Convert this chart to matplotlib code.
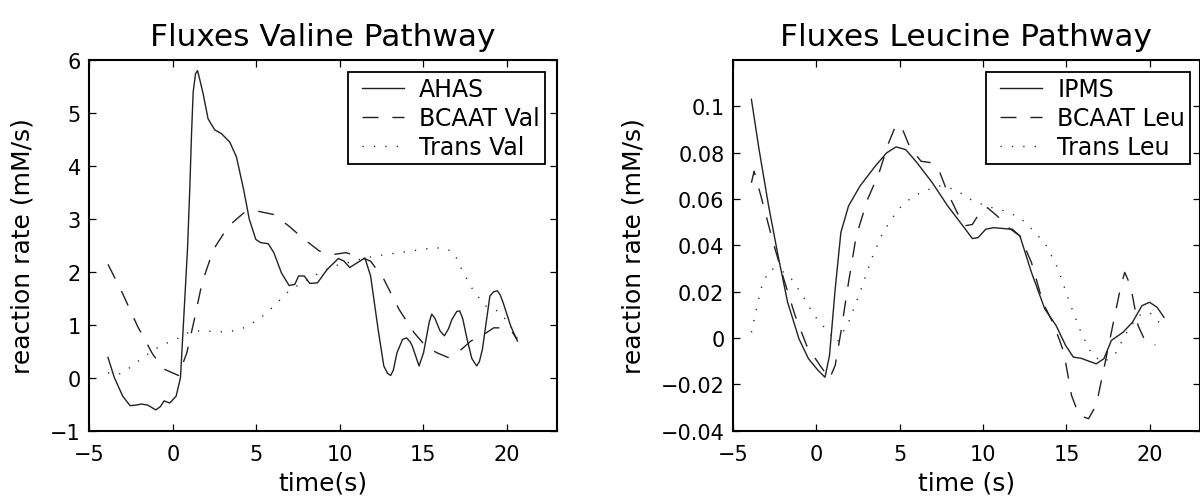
import numpy as np
import matplotlib
matplotlib.use("Agg")
import matplotlib.pyplot as plt
from matplotlib.lines import Line2D
from matplotlib.legend_handler import HandlerLine2D

plt.rcParams['font.family'] = ['DejaVu Sans']

# ---- Valine pathway ----
t_ahas = [-3.88, -3.5, -3.0, -2.56, -2.2, -1.88, -1.5, -1.02, -0.75, -0.52, -0.18, 0.2, 0.46,
          0.88, 1.02, 1.12, 1.22, 1.36, 1.48, 1.6, 1.81, 2.11, 2.51, 2.91, 3.41, 3.81,
          4.24, 4.58, 4.97,
          5.26, 5.71, 6.05, 6.5, 6.96, 7.3, 7.53, 7.87, 8.2, 8.66, 9.23, 9.91, 10.25, 10.59,
          11.04, 11.5, 11.84, 12.29, 12.63, 12.85, 13.04, 13.2, 13.42, 13.75, 13.99, 14.2, 14.33,
          14.74, 15.01, 15.35, 15.5, 15.69, 16.0, 16.26, 16.5, 16.71, 17.0, 17.17, 17.35, 17.62,
          17.9, 18.19, 18.35, 18.53, 18.98, 19.2, 19.43, 19.6, 19.77, 20.23, 20.63]
v_ahas = [0.38, 0.0, -0.35, -0.53, -0.52, -0.50, -0.52, -0.61, -0.55, -0.44, -0.48, -0.35, 0.0,
          2.43, 3.6, 4.6, 5.4, 5.74, 5.8, 5.65, 5.37, 4.89, 4.68, 4.61, 4.45, 4.17,
          3.55, 2.99, 2.61,
          2.55, 2.53, 2.36, 1.98, 1.74, 1.76, 1.92, 1.92, 1.78, 1.79, 2.04, 2.25, 2.2, 2.08,
          2.17, 2.26, 1.92, 0.91, 0.22, 0.08, 0.04, 0.14, 0.47, 0.72, 0.75, 0.68, 0.6,
          0.22, 0.47, 1.05, 1.2, 1.12, 0.88, 0.79, 0.92, 1.1, 1.25, 1.26, 1.12, 0.72,
          0.36, 0.22, 0.3, 0.53, 1.54, 1.62, 1.64, 1.56, 1.42, 0.97, 0.69]

t_bcaat_val = [-3.88, -3.02, -2.11, -1.2, -0.52, 0.34, 0.84, 1.29, 1.75, 2.43, 3.33, 4.24, 5.15,
               6.05, 6.96, 7.87, 8.78, 9.68, 10.36, 11.04, 11.84, 12.63, 13.54, 14.44, 15.12,
               15.8, 16.48, 17.05, 17.84, 18.64, 19.21, 19.89, 20.34, 20.61]
v_bcaat_val = [2.14, 1.6, 0.97, 0.44, 0.16, 0.04, 0.47, 1.1, 1.79, 2.42, 2.86, 3.11, 3.14,
               3.08, 2.86, 2.61, 2.39, 2.33, 2.36, 2.3, 2.2, 1.86, 1.29, 0.85, 0.6,
               0.47, 0.38, 0.47, 0.69, 0.82, 0.94, 0.94, 0.85, 0.72]

t_trans_val = [-3.88, -3.24, -2.56, -1.66, -0.75, 0.16, 0.61, 1.07, 1.97, 3.33, 4.24, 5.15, 6.05,
               6.96, 7.87, 8.78, 9.68, 10.59, 11.5, 12.4, 13.54, 14.67, 15.58, 16.26, 16.83,
               17.39, 18.07, 18.75, 19.43, 20.11, 20.61]
v_trans_val = [0.09, 0.06, 0.19, 0.41, 0.6, 0.72, 0.79, 0.88, 0.88, 0.86, 0.94, 1.1, 1.35,
               1.64, 1.82, 1.98, 2.11, 2.18, 2.26, 2.31, 2.36, 2.41, 2.45, 2.45, 2.36,
               1.98, 1.6, 1.35, 1.26, 1.04, 0.75]

# ---- Leucine pathway ----
t_ipms = [-3.88, -3.42, -2.85, -2.28, -1.71, -1.03, -0.46, 0.11, 0.53, 0.8, 1.14, 1.48, 1.94,
          2.63, 3.54, 4.22, 4.79, 5.37, 6.05, 6.96, 7.88, 8.79, 9.36, 9.7, 10.16, 10.62,
          11.76, 12.21, 12.9, 13.7, 14.38, 14.95, 15.41, 15.87, 16.78, 17.24, 17.69, 18.38,
          18.95, 19.52, 19.98, 20.43, 20.84]
v_ipms = [0.103, 0.0813, 0.057, 0.0354, 0.0154, -0.0004, -0.009, -0.014, -0.017, -0.0076,
          0.0211, 0.0455, 0.057, 0.0656, 0.0742, 0.0799, 0.0825, 0.0813, 0.0756, 0.067,
          0.057, 0.0484, 0.0429, 0.0433, 0.0469, 0.0476, 0.0469, 0.044, 0.0283, 0.0125,
          0.0053, -0.0033, -0.0083, -0.0088, -0.0112, -0.009, -0.0011, 0.0024, 0.0067,
          0.0139, 0.0154, 0.0132, 0.0089]

t_bcaat_leu = [-3.88, -3.72, -3.31, -2.63, -1.94, -1.26, -0.57, 0.23, 0.8, 1.14, 1.48, 1.94,
               2.4, 3.08, 3.77, 4.34, 4.79, 5.14, 5.59, 6.28, 6.96, 7.42, 7.88, 8.45, 8.9,
               9.36, 9.93, 10.27, 10.84, 11.53, 12.21, 12.9, 13.58, 14.27, 14.84, 15.3,
               15.75, 16.32, 16.78, 17.24, 17.81, 18.26, 18.49, 18.84, 19.29, 19.75, 20.32]
v_bcaat_leu = [0.067, 0.072, 0.0613, 0.0426, 0.0254, 0.0096, -0.0033, -0.0119, -0.0176,
               -0.0119, 0.0024, 0.024, 0.044, 0.0598, 0.0713, 0.0842, 0.0921, 0.0907,
               0.0828, 0.0763, 0.0756, 0.0713, 0.0627, 0.0541, 0.0484, 0.049, 0.0555,
               0.0562, 0.0527, 0.0476, 0.044, 0.0326, 0.0154, 0.0053, -0.0062, -0.0248,
               -0.0334, -0.0349, -0.0291, -0.0133, 0.0067, 0.0225, 0.0283, 0.0225, 0.0053,
               -0.0019, -0.003]

t_trans_leu = [-3.88, -3.54, -3.2, -2.74, -2.17, -1.48, -0.8, -0.11, 0.57, 1.26, 1.94, 2.63,
               3.31, 4.0, 4.91, 5.82, 6.74, 7.42, 8.33, 9.25, 10.16, 11.3, 12.21, 13.13,
               13.81, 14.5, 15.18, 15.87, 16.55, 17.24, 17.92, 18.61, 19.29, 19.98, 20.55]
v_trans_leu = [0.0024, 0.0139, 0.024, 0.0297, 0.0297, 0.0254, 0.0182, 0.0096, 0.0039,
               -0.0019, 0.0067, 0.0197, 0.034, 0.0455, 0.0555, 0.0613, 0.0641, 0.0656,
               0.0641, 0.0598, 0.057, 0.0548, 0.052, 0.0455, 0.0397, 0.0297, 0.0154,
               0.0024, -0.0076, -0.0105, -0.0069, 0.0024, 0.0096, 0.011, 0.0067]

LC = '#222222'
DASH = (11.5, 10.0)
DOT = (0.9, 7.3)


def style_axes(ax):
    for s in ax.spines.values():
        s.set_linewidth(1.5)
        s.set_color('black')
    ax.tick_params(direction='in', top=True, right=True, length=5, width=0.9,
                   labelsize=15)
    ax.tick_params(axis='x', pad=9.5)
    ax.tick_params(axis='y', pad=6)
    ax.set_xlim(-5, 23)
    ax.set_xticks([-5, 0, 5, 10, 15, 20])


fig = plt.figure(figsize=(12, 5.02), dpi=100)
ax1 = fig.add_axes([0.0744, 0.1404, 0.3898, 0.738])
ax2 = fig.add_axes([0.6106, 0.1404, 0.3894, 0.738])

# left panel
ax1.plot(t_ahas, v_ahas, color=LC, lw=1.0, label='AHAS')
ax1.plot(t_bcaat_val, v_bcaat_val, color=LC, lw=1.0, dashes=DASH, label='BCAAT Val')
ax1.plot(t_trans_val, v_trans_val, color=LC, lw=1.0, dashes=DOT, label='Trans Val')
style_axes(ax1)
ax1.set_ylim(-1, 6)
ax1.set_yticks(range(-1, 7))
ax1.set_title('Fluxes Valine Pathway', fontsize=22.5, pad=11)
ax1.set_xlabel('time(s)', fontsize=18, labelpad=5)
ax1.set_ylabel('reaction rate (mM/s)', fontsize=18, labelpad=11)

# right panel
ax2.plot(t_ipms, v_ipms, color=LC, lw=1.0, label='IPMS')
ax2.plot(t_bcaat_leu, v_bcaat_leu, color=LC, lw=1.0, dashes=DASH, label='BCAAT Leu')
ax2.plot(t_trans_leu, v_trans_leu, color=LC, lw=1.0, dashes=DOT, label='Trans Leu')
style_axes(ax2)
ax2.set_ylim(-0.04, 0.12)
ax2.set_yticks([-0.04, -0.02, 0, 0.02, 0.04, 0.06, 0.08, 0.1])
ax2.set_yticklabels(['\u22120.04', '\u22120.02', '0', '0.02', '0.04', '0.06', '0.08', '0.1'])
ax2.set_title('Fluxes Leucine Pathway', fontsize=22.5, pad=11)
ax2.set_xlabel('time (s)', fontsize=18, labelpad=5)
ax2.set_ylabel('reaction rate (mM/s)', fontsize=18, labelpad=10.5)

# legend boxes: extra space left of the sample lines, like the original
for ax, anchor in ((ax1, (0.974, 0.968)), (ax2, (0.979, 0.968))):
    leg = ax.legend(loc='upper right', bbox_to_anchor=anchor, fontsize=17, frameon=True,
                    fancybox=False, framealpha=1, edgecolor='black', borderaxespad=0,
                    handlelength=2.18, handletextpad=0.64, labelspacing=0.21, borderpad=0.21,
                    handler_map={Line2D: HandlerLine2D(xpad=0.4)})
    leg.get_frame().set_linewidth(1.3)

fig.savefig('out.png', dpi=100)
